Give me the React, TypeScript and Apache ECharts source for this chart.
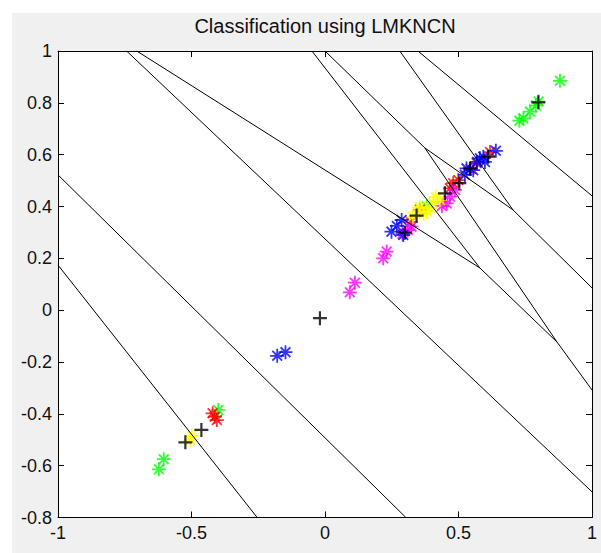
import { useEffect, useRef } from 'react';
import * as echarts from 'echarts';

const titleText = 'Classification using LMKNCN';
const xRange = [-1, 1];
const yRange = [-0.8, 1];

// decision boundary polylines [x, y]
const boundaryA = [[-0.743, 1], [1, -0.701]];
const boundaryB = [[-0.705, 1], [0.58, 0.163]];
const boundaryC = [[-0.049, 1], [0.58, 0.163]];
const boundaryI = [[0.58, 0.163], [0.869, -0.123]];
const boundaryD = [[0.0, 1], [0.374, 0.626], [0.704, 0.387], [1, 0.086]];
const boundaryE = [[0.28, 1], [0.704, 0.387]];
const boundaryF = [[0.374, 0.626], [0.869, -0.123]];
const boundaryH = [[0.869, -0.123], [1, -0.308]];
const boundaryG = [[0.348, 1], [1, 0.441]];
const boundaryL1 = [[-1, 0.522], [0.303, -0.8]];
const boundaryL2 = [[-1, 0.174], [-0.254, -0.8]];

// class samples
const greenPts = [[0.88, 0.885], [0.768, 0.766], [0.743, 0.74], [0.728, 0.731], [0.79, 0.79], [0.8, 0.805], [0.381, 0.399], [-0.4, -0.385], [-0.604, -0.575], [-0.622, -0.614]];
const redPts = [[0.468, 0.47], [0.499, 0.502], [0.568, 0.567], [0.48, 0.49], [0.355, 0.387], [0.322, 0.34], [0.618, 0.61], [0.545, 0.545], [-0.413, -0.411], [-0.421, -0.398], [-0.405, -0.424]];
const magentaPts = [[0.231, 0.226], [0.218, 0.2], [0.31, 0.309], [0.324, 0.322], [0.456, 0.412], [0.468, 0.438], [0.487, 0.464], [0.438, 0.402], [0.112, 0.106], [0.093, 0.069], [0.29, 0.295]];
const yellowPts = [[0.329, 0.361], [0.355, 0.399], [0.381, 0.38], [0.405, 0.412], [0.43, 0.425], [0.37, 0.371], [0.415, 0.437], [0.393, 0.394], [0.345, 0.38], [-0.504, -0.501], [-0.499, -0.485]];
const bluePts = [[0.249, 0.303], [0.293, 0.29], [0.287, 0.348], [0.269, 0.325], [0.524, 0.522], [0.53, 0.547], [0.58, 0.586], [0.593, 0.592], [0.569, 0.572], [0.64, 0.615], [0.599, 0.572], [0.555, 0.54], [-0.179, -0.176], [-0.148, -0.162]];
const blackPts = [[0.299, 0.299], [0.343, 0.365], [0.449, 0.451], [0.503, 0.49], [0.543, 0.547], [0.611, 0.592], [0.799, 0.802], [-0.019, -0.031], [-0.463, -0.462], [-0.523, -0.51]];

const boundaries = [boundaryA, boundaryB, boundaryC, boundaryI, boundaryD, boundaryE, boundaryF, boundaryH, boundaryG, boundaryL1, boundaryL2];
const classes: [number[][], string][] = [
  [greenPts, '#00ff00'],
  [redPts, '#ff0000'],
  [magentaPts, '#ff00ff'],
  [yellowPts, '#ffff00'],
  [bluePts, '#0000ff'],
];

const FONT = '"Liberation Sans", Arial, sans-serif';
const STAR = 'path://M0,-10L0,10M-10,0L10,0M-7,-7L7,7M-7,7L7,-7';
const PLUS = 'path://M-10,0L10,0M0,-10L0,10';

export default function App() {
  const ref = useRef<HTMLDivElement>(null);
  useEffect(() => {
    const chart = echarts.init(ref.current!, null, { renderer: 'svg' });
    const axisCommon = {
      type: 'value' as const,
      axisLine: { show: true, onZero: false, lineStyle: { color: '#000', width: 1 } },
      axisTick: { show: true, inside: true, length: 6, lineStyle: { color: '#000' } },
      splitLine: { show: false },
    };
    const series: any[] = [];
    boundaries.forEach((b) => {
      series.push({
        type: 'line',
        data: b,
        symbol: 'none',
        silent: true,
        lineStyle: { color: '#000', width: 1 },
        xAxisIndex: 0,
        yAxisIndex: 0,
      });
    });
    classes.forEach(([pts, c]) => {
      series.push({
        type: 'scatter',
        data: pts,
        symbol: STAR,
        symbolSize: 14,
        itemStyle: { color: 'none', borderColor: c, borderWidth: 1.8 },
        xAxisIndex: 0,
        yAxisIndex: 0,
      });
    });
    series.push({
      type: 'scatter',
      data: blackPts,
      symbol: PLUS,
      symbolSize: 14,
      itemStyle: { color: 'none', borderColor: '#000', borderWidth: 2.2 },
      xAxisIndex: 0,
      yAxisIndex: 0,
    });
    chart.setOption({
      animation: false,
      title: {
        text: titleText,
        left: 325,
        textAlign: 'center',
        top: 16,
        padding: 0,
        textStyle: { fontFamily: FONT, fontSize: 20, fontWeight: 'normal', color: '#111' },
      },
      grid: { left: 58, right: 9, top: 51, bottom: 35.5, show: true, backgroundColor: '#fff', borderWidth: 0 },
      xAxis: [
        { ...axisCommon, min: xRange[0], max: xRange[1], interval: 0.5, position: 'bottom',
          axisLabel: { color: '#111', fontSize: 18, fontFamily: FONT, margin: 6 } },
        { ...axisCommon, min: xRange[0], max: xRange[1], interval: 0.5, position: 'top', axisLabel: { show: false } },
      ],
      yAxis: [
        { ...axisCommon, min: yRange[0], max: yRange[1], interval: 0.2, position: 'left',
          axisLabel: { color: '#111', fontSize: 18, fontFamily: FONT, margin: 6 } },
        { ...axisCommon, min: yRange[0], max: yRange[1], interval: 0.2, position: 'right', axisLabel: { show: false } },
      ],
      series,
    });
    return () => chart.dispose();
  }, []);
  return (
    <div style={{ position: 'absolute', left: 0, top: 0, width: 601, height: 553, background: '#fff' }}>
      <div style={{ position: 'absolute', left: 12, top: 13, right: 0, bottom: 0, background: '#f0f0f0' }} />
      <div ref={ref} style={{ position: 'absolute', left: 0, top: 0, width: 601, height: 553 }} />
    </div>
  );
}
